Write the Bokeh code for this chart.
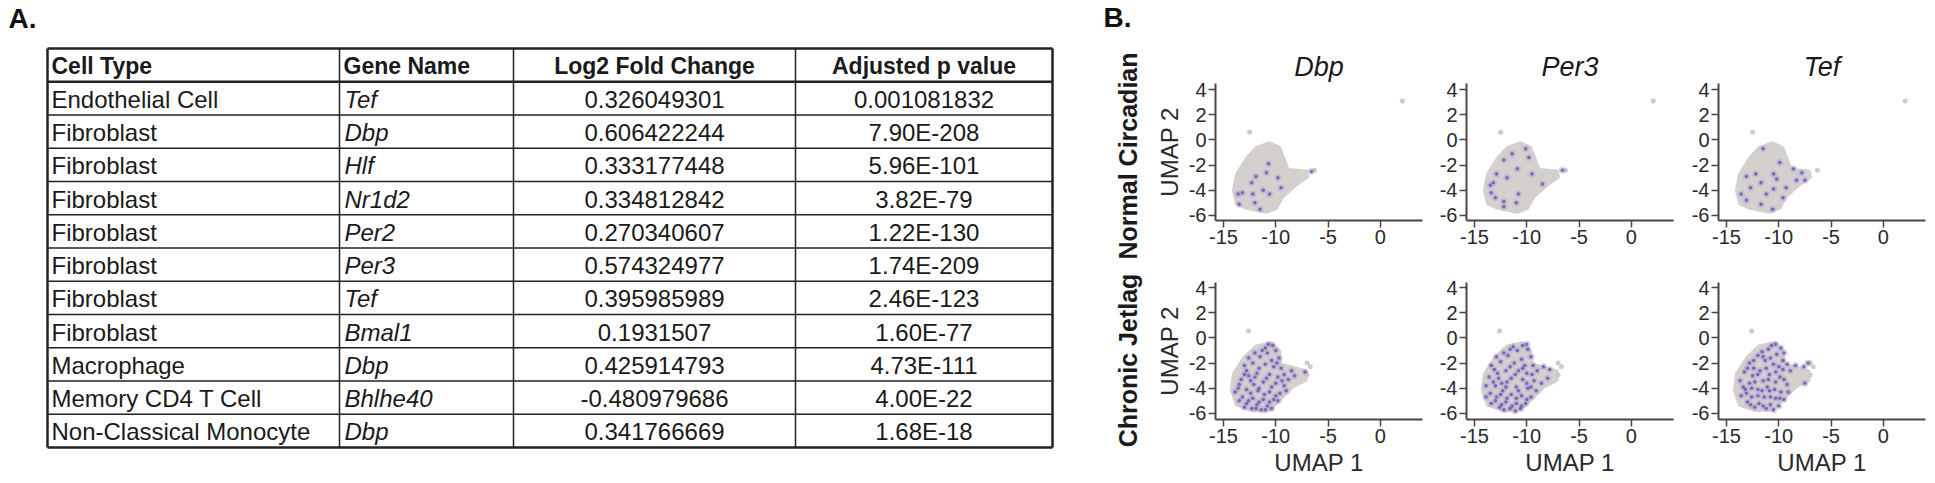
import math
from bokeh.plotting import figure
from bokeh.layouts import row, column
from bokeh.models import Range1d, FixedTicker
from bokeh.core.properties import value
from bokeh.embed import file_html
from bokeh.resources import INLINE

FONT = "Liberation Sans"

# ------------------------------------------------------------------ data
headers = ["Cell Type", "Gene Name", "Log2 Fold Change", "Adjusted p value"]
cell_types = ["Endothelial Cell", "Fibroblast", "Fibroblast", "Fibroblast", "Fibroblast",
              "Fibroblast", "Fibroblast", "Fibroblast", "Macrophage", "Memory CD4 T Cell",
              "Non-Classical Monocyte"]
gene_names = ["Tef", "Dbp", "Hlf", "Nr1d2", "Per2", "Per3", "Tef", "Bmal1", "Dbp", "Bhlhe40", "Dbp"]
log2_fc = ["0.326049301", "0.606422244", "0.333177448", "0.334812842", "0.270340607",
           "0.574324977", "0.395985989", "0.1931507", "0.425914793", "-0.480979686",
           "0.341766669"]
adj_p = ["0.001081832", "7.90E-208", "5.96E-101", "3.82E-79", "1.22E-130", "1.74E-209",
         "2.46E-123", "1.60E-77", "4.73E-111", "4.00E-22", "1.68E-18"]

panel_genes = ["Dbp", "Per3", "Tef"]
conditions = ["Normal Circadian", "Chronic Jetlag"]
x_ticks = [-15, -10, -5, 0]
y_ticks = [-6, -4, -2, 0, 2, 4]

# cluster outline (UMAP coordinates) for each condition
nc_outline_x = [-10.6, -9.6, -9.1, -8.8, -7.05, -6.9, -8.0, -9.3, -9.9, -10.9, -12.8, -13.8, -14.1, -13.8, -12.8, -11.9]
nc_outline_y = [-0.18, -0.58, -1.63, -2.3, -2.43, -2.96, -3.6, -4.55, -5.47, -5.79, -5.47, -5.07, -4.0, -2.7, -1.37, -0.58]
cj_outline_x = [-10.4, -9.6, -9.45, -8.3, -7.05, -7.05, -8.3, -9.6, -10.6, -12.2, -13.8, -14.3, -14.1, -13.1, -11.9]
cj_outline_y = [-0.34, -1.0, -2.06, -2.3, -2.6, -3.4, -3.9, -4.97, -5.76, -5.8, -5.37, -4.17, -2.85, -1.53, -0.6]

# unexpressing outlier cells
nc_other_x = [-12.5, 2.1, -6.3]
nc_other_y = [0.6, 3.1, -2.4]
cj_other_x = [-12.6, -7.0, -6.7, -7.0]
cj_other_y = [0.55, -2.0, -2.3, -2.95]

# expressing cells, Normal Circadian
nc_dbp_x = [-6.6, -12.3, -10.9, -11.9, -9.8, -9.5, -11.2, -10.6, -12.2, -13.2, -13.6, -12.0, -13.5, -11.5, -10.7]
nc_dbp_y = [-2.5, -3.4, -2.6, -2.9, -3.0, -3.8, -4.0, -4.3, -4.3, -4.2, -4.3, -5.0, -5.1, -5.5, -1.9]
nc_per3_x = [-6.6, -12.9, -12.2, -10.9, -10.1, -11.9, -13.2, -10.8, -8.5, -12.2, -12.2, -13.4, -9.8, -11.4, -9.5, -13.0, -13.5, -11.0]
nc_per3_y = [-2.4, -2.7, -1.6, -2.3, -0.7, -3.0, -3.4, -4.3, -3.5, -4.9, -5.3, -4.2, -1.4, -1.1, -2.7, -4.6, -3.6, -5.0]
nc_tef_x = [-7.8, -7.5, -9.9, -11.5, -12.2, -12.7, -11.7, -10.5, -10.2, -9.6, -13.6, -13.1, -11.7, -10.6, -9.3, -11.2, -10.5, -13.1, -8.6, -8.3]
nc_tef_y = [-2.6, -3.2, -1.8, -0.7, -2.7, -3.8, -3.4, -3.9, -3.1, -4.6, -4.3, -4.8, -5.1, -5.5, -3.8, -4.3, -2.7, -2.9, -2.3, -3.2]

# expressing cells, Chronic Jetlag
cj_dbp_x = [-10.3, -10.0, -10.8, -11.5, -9.7, -12.2, -11.0, -10.2, -9.5, -12.8, -11.8, -10.6, -9.8, -13.3, -12.4,
            -11.2, -10.0, -9.2, -13.6, -12.8, -11.7, -10.6, -9.6, -13.2, -12.2, -11.2, -10.2, -12.8, -11.8, -10.8,
            -12.3, -11.4, -10.4, -13.5, -8.8, -7.2, -8.5, -11.0, -12.0, -13.0, -9.0, -11.6, -12.6, -10.4,
            -10.7, -11.3, -12.6, -10.4, -9.9, -11.6, -13.0, -12.0, -10.9, -9.4, -13.9, -12.4, -11.1, -10.0,
            -13.5, -12.6, -11.6, -10.6, -9.8, -13.0, -11.9, -11.0, -12.1, -9.2, -8.2]
cj_dbp_y = [-0.6, -1.0, -1.2, -1.5, -1.6, -2.0, -2.1, -2.3, -2.4, -2.6, -2.8, -2.9, -3.1, -3.3, -3.4,
            -3.5, -3.6, -3.8, -4.0, -4.1, -4.2, -4.3, -4.4, -4.7, -4.8, -4.9, -4.9, -5.2, -5.3, -5.4,
            -5.6, -5.7, -5.6, -3.7, -3.3, -2.7, -2.6, -0.8, -1.2, -2.2, -4.2, -4.0, -3.0, -3.9,
            -0.5, -1.0, -1.6, -1.8, -2.0, -2.4, -2.9, -3.1, -3.2, -3.4, -4.3, -4.4, -4.5, -4.6,
            -5.0, -5.0, -5.1, -5.1, -5.0, -5.5, -5.6, -5.7, -3.7, -2.9, -3.0]
cj_per3_x = [-10.4, -9.9, -10.9, -11.8, -9.6, -10.5, -12.5, -11.2, -9.4, -8.4, -7.8, -13.1, -12.0, -10.8, -10.0,
             -13.6, -12.7, -11.5, -10.4, -9.3, -8.6, -13.9, -13.0, -12.0, -11.0, -9.9, -9.1, -13.5, -12.5, -11.5,
             -10.5, -9.6, -13.0, -12.0, -11.0, -10.1, -12.6, -11.6, -10.6, -11.3, -12.9, -13.4, -11.9, -10.8, -12.3, -9.5,
             -10.0, -11.6, -12.2, -10.2, -11.6, -12.8, -10.4, -9.0, -11.1, -13.2, -12.4, -10.0, -9.6, -13.9,
             -12.9, -11.9, -11.0, -10.0, -13.4, -12.4, -11.4, -10.5, -12.2, -11.1, -8.0]
cj_per3_y = [-0.6, -0.9, -1.0, -1.4, -1.5, -1.7, -1.9, -2.0, -2.2, -2.3, -2.5, -2.5, -2.6, -2.6, -2.8,
             -3.1, -3.2, -3.2, -3.3, -3.4, -3.6, -3.8, -3.8, -3.9, -3.9, -4.0, -4.2, -4.4, -4.5, -4.5,
             -4.6, -4.7, -5.0, -5.1, -5.2, -5.2, -5.5, -5.6, -5.6, -0.7, -1.5, -2.2, -3.5, -4.2, -4.2, -2.9,
             -0.5, -0.9, -1.2, -2.2, -2.3, -2.8, -2.4, -2.6, -2.9, -3.5, -3.6, -3.6, -3.9, -4.7,
             -4.7, -4.8, -4.8, -4.9, -5.2, -5.3, -5.4, -5.4, -5.7, -5.8, -3.2]
cj_tef_x = [-10.3, -9.8, -11.0, -10.2, -12.0, -9.6, -11.3, -12.8, -10.5, -8.4, -7.6, -7.2, -9.6, -11.8, -13.3,
            -10.9, -12.5, -9.9, -13.7, -11.5, -10.3, -12.8, -9.2, -7.5, -13.2, -12.0, -10.9, -9.8, -13.6, -12.6,
            -11.4, -10.3, -9.5, -13.0, -11.9, -10.8, -12.3, -11.2, -10.0, -11.6, -12.4, -11.1, -10.0, -12.3,
            -10.7, -9.5, -11.5, -12.4, -10.8, -9.2, -11.2, -13.0, -10.3, -12.0, -9.5, -11.0, -13.4, -12.6,
            -11.6, -10.4, -9.1, -13.1, -12.0, -10.8, -9.9, -12.7, -11.5, -10.5, -8.9]
cj_tef_y = [-0.5, -0.8, -0.9, -1.3, -1.4, -1.8, -1.8, -2.0, -2.1, -2.2, -2.3, -2.0, -2.5, -2.6, -2.7,
            -2.9, -3.0, -3.1, -3.4, -3.4, -3.5, -3.6, -3.7, -3.6, -4.1, -4.1, -4.2, -4.3, -4.6, -4.7,
            -4.7, -4.8, -4.9, -5.1, -5.2, -5.3, -5.5, -5.6, -5.4, -1.1, -2.4, -3.9, -2.3, -3.5,
            -0.6, -1.2, -1.5, -1.8, -1.6, -2.1, -2.4, -2.4, -2.7, -2.9, -3.3, -3.3, -3.9, -4.0,
            -4.2, -4.1, -4.3, -4.4, -4.6, -4.7, -4.8, -5.3, -5.4, -5.7, -2.6]

expr = {
    ("Normal Circadian", "Dbp"): (nc_dbp_x, nc_dbp_y),
    ("Normal Circadian", "Per3"): (nc_per3_x, nc_per3_y),
    ("Normal Circadian", "Tef"): (nc_tef_x, nc_tef_y),
    ("Chronic Jetlag", "Dbp"): (cj_dbp_x, cj_dbp_y),
    ("Chronic Jetlag", "Per3"): (cj_per3_x, cj_per3_y),
    ("Chronic Jetlag", "Tef"): (cj_tef_x, cj_tef_y),
}
outlines = {"Normal Circadian": (nc_outline_x, nc_outline_y), "Chronic Jetlag": (cj_outline_x, cj_outline_y)}
others = {"Normal Circadian": (nc_other_x, nc_other_y), "Chronic Jetlag": (cj_other_x, cj_other_y)}

# ------------------------------------------------------------------ layout constants (page px)
PAGE_H = 483
TBL_W = 1090
COL_X = [47, 339, 513, 795, 1052]
TBL_TOP = 48
ROW_H = 33.25
LINE_C = "#222222"


def blank(w, h, x0):
    p = figure(width=w, height=h, x_range=Range1d(x0, x0 + w), y_range=Range1d(h, 0),
               x_axis_type=None, y_axis_type=None, toolbar_location=None,
               output_backend="svg", min_border=0)
    p.outline_line_color = None
    p.grid.visible = False
    return p


# ------------------------------------------------------------------ table figure
t = blank(TBL_W, PAGE_H, 0)
n_rows = len(cell_types) + 1
bottom = TBL_TOP + n_rows * ROW_H
for i in range(n_rows + 1):
    yy = TBL_TOP + i * ROW_H
    w = 2.5 if i in (0, 1, n_rows) else 1.5
    t.segment(x0=[COL_X[0]], y0=[yy], x1=[COL_X[-1]], y1=[yy], line_color=LINE_C, line_width=w)
for j, xx in enumerate(COL_X):
    w = 2.5 if j in (0, len(COL_X) - 1) else 1.5
    t.segment(x0=[xx], y0=[TBL_TOP], x1=[xx], y1=[bottom], line_color=LINE_C, line_width=w)

centers = [TBL_TOP + (i + 0.5) * ROW_H + 1 for i in range(n_rows)]
for j, h in enumerate(headers):
    if j < 2:
        x, al = COL_X[j] + 4, "left"
    else:
        x, al = (COL_X[j] + COL_X[j + 1]) / 2, "center"
    t.text(x=[x], y=[centers[0]], text=[h], text_font=value(FONT), text_font_style="bold",
           text_font_size="23px", text_align=al, text_baseline="middle", text_color="#1a1a1a")
body_y = centers[1:]
t.text(x=[COL_X[0] + 4] * len(cell_types), y=body_y, text=cell_types, text_font=value(FONT),
       text_font_size="24px", text_align="left", text_baseline="middle", text_color="#1a1a1a")
t.text(x=[COL_X[1] + 5] * len(gene_names), y=body_y, text=gene_names, text_font=value(FONT),
       text_font_style="italic", text_font_size="24px", text_align="left", text_baseline="middle",
       text_color="#1a1a1a")
t.text(x=[(COL_X[2] + COL_X[3]) / 2] * len(log2_fc), y=body_y, text=log2_fc, text_font=value(FONT),
       text_font_size="24px", text_align="center", text_baseline="middle", text_color="#1a1a1a")
t.text(x=[(COL_X[3] + COL_X[4]) / 2] * len(adj_p), y=body_y, text=adj_p, text_font=value(FONT),
       text_font_size="24px", text_align="center", text_baseline="middle", text_color="#1a1a1a")
t.text(x=[8], y=[18], text=["A."], text_font=value(FONT), text_font_style="bold",
       text_font_size="28px", text_align="left", text_baseline="middle", text_color="#111111")

# ------------------------------------------------------------------ row label figure
LAB_W = 55
lab = blank(LAB_W, PAGE_H, 1090)
lab.text(x=[1103], y=[17], text=["B."], text_font=value(FONT), text_font_style="bold",
         text_font_size="28px", text_align="left", text_baseline="middle", text_color="#111111")
lab.text(x=[1127, 1127], y=[155.5, 360], text=conditions, angle=math.pi / 2,
         text_font=value(FONT), text_font_style="bold", text_font_size="25px",
         text_align="center", text_baseline="middle", text_color="#1a1a1a")

# ------------------------------------------------------------------ UMAP panels
COL_W = [285, 251, 254]
COL_BL = [70, 36, 37]
COL_BR = [8, 8, 10]
ROW_HS = [255, 228]
ROW_BT = [83, 27]
ROW_BB = [35, 64]
Y_RANGES = [(-6.4, 4.48), (-6.48, 4.4)]
AX_C = "#4d4541"


def panel(ri, ci):
    cond = conditions[ri]
    gene = panel_genes[ci]
    p = figure(width=COL_W[ci], height=ROW_HS[ri], x_range=Range1d(-15.77, 4.04),
               y_range=Range1d(*Y_RANGES[ri]), toolbar_location=None, output_backend="svg",
               min_border_left=COL_BL[ci], min_border_right=COL_BR[ci],
               min_border_top=ROW_BT[ri], min_border_bottom=ROW_BB[ri])
    p.outline_line_color = None
    p.grid.visible = False
    ox, oy = outlines[cond]
    p.patch(ox, oy, fill_color="#d4d0cd", line_color="#d4d0cd", line_width=2)
    gx, gy = others[cond]
    p.scatter(gx, gy, size=5, fill_color="#cfcbc9", line_color=None)
    ex, ey = expr[(cond, gene)]
    p.scatter(ex, ey, size=7, fill_color="#b3a5d8", fill_alpha=0.5, line_color=None)
    p.scatter(ex, ey, size=3.5, fill_color="#5d4ea6", fill_alpha=0.75, line_color=None)
    for ax in (p.xaxis[0], p.yaxis[0]):
        ax.axis_line_width = 2
        ax.axis_line_color = AX_C
        ax.major_tick_line_color = AX_C
        ax.major_tick_line_width = 1.5
        ax.major_tick_out = 7
        ax.major_tick_in = 0
        ax.minor_tick_line_color = None
        ax.major_label_text_font = FONT
        ax.major_label_text_font_size = "20px"
        ax.major_label_text_color = "#2a2a2a"
        ax.major_label_standoff = 2
        ax.axis_label_text_font = FONT
        ax.axis_label_text_font_size = "24px"
        ax.axis_label_text_font_style = "normal"
        ax.axis_label_text_color = "#2a2a2a"
        ax.axis_label_standoff = 3
    p.xaxis.ticker = FixedTicker(ticks=x_ticks)
    p.yaxis.ticker = FixedTicker(ticks=y_ticks)
    p.xaxis.major_label_overrides = {v: str(v) for v in x_ticks}
    p.yaxis.major_label_overrides = {v: str(v) for v in y_ticks}
    if ci == 0:
        p.yaxis.axis_label = "UMAP 2"
    if ri == 1:
        p.xaxis.axis_label = "UMAP 1"
    if ri == 0:
        p.title.text = gene
        p.title.text_font = FONT
        p.title.text_font_style = "italic"
        p.title.text_font_size = "27px"
        p.title.align = "center"
        p.title.text_color = "#1a1a1a"
        p.title.standoff = 4
    return p


rows = []
for ri in range(2):
    rows.append(row([panel(ri, ci) for ci in range(3)], spacing=0))
right = column(rows, spacing=0)
layout = row([t, lab, right], spacing=0)

open("out.html", "w").write(file_html(layout, INLINE))
